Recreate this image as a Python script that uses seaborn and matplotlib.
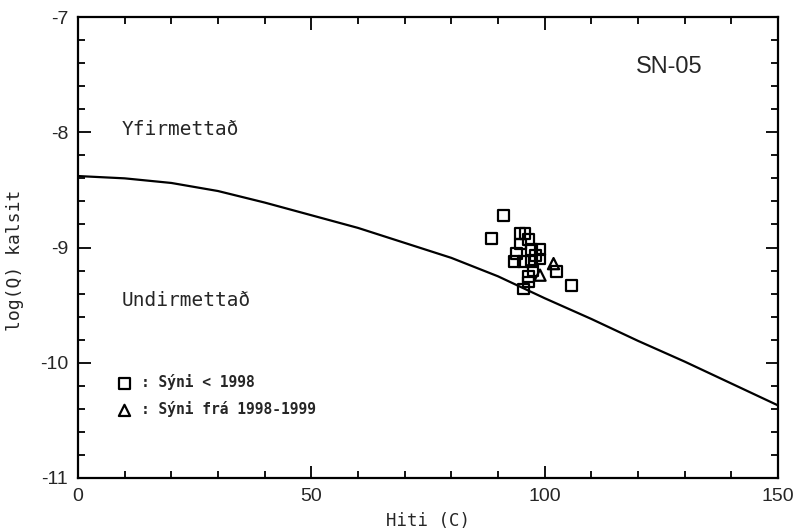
import numpy as np
import pandas as pd
import matplotlib
matplotlib.use("Agg")
import matplotlib.pyplot as plt
import seaborn as sns
from matplotlib.ticker import MultipleLocator

# Saturation curve (log K calcite vs temperature)
curve_t = [0, 10, 20, 30, 40, 50, 60, 70, 80, 90, 100, 110, 120, 130, 140, 150]
curve_logk = [-8.38, -8.40, -8.44, -8.51, -8.61, -8.72, -8.83, -8.96, -9.09,
              -9.25, -9.44, -9.62, -9.81, -9.99, -10.18, -10.37]

# Samples before 1998 (squares)
sq_t = [91.1, 88.6, 94.7, 95.8, 96.5, 94.0, 97.2, 99.0, 93.6, 95.4, 97.2,
        99.0, 97.5, 96.5, 96.5, 102.6, 105.8, 95.4, 94.9, 98.0]
sq_q = [-8.72, -8.92, -8.88, -8.88, -8.93, -9.05, -9.02, -9.02, -9.12, -9.12,
        -9.12, -9.10, -9.20, -9.25, -9.30, -9.21, -9.33, -9.36, -8.97, -9.07]

# Samples 1998-1999 (triangles)
tr_t = [101.9, 99.0]
tr_q = [-9.14, -9.24]

legend_labels = [": Sýni < 1998", ": Sýni frá 1998-1999"]

sns.set_style("ticks")
plt.rcParams['axes.unicode_minus'] = False
plt.rcParams['font.family'] = ['Liberation Sans', 'DejaVu Sans']

fig = plt.figure(figsize=(7.98, 5.31), dpi=100)
ax = fig.add_axes([78/798, 1-478/531, 700/798, 461/531])

curve_df = pd.DataFrame({"t": curve_t, "q": curve_logk})
sns.lineplot(data=curve_df, x="t", y="q", color="black", linewidth=1.6, ax=ax)

sq_df = pd.DataFrame({"t": sq_t, "q": sq_q})
tr_df = pd.DataFrame({"t": tr_t, "q": tr_q})
sns.scatterplot(data=sq_df, x="t", y="q", marker="s", s=60, facecolors="none",
                edgecolor="black", linewidth=1.6, ax=ax, label=legend_labels[0])
sns.scatterplot(data=tr_df, x="t", y="q", marker="^", s=65, facecolors="none",
                edgecolor="black", linewidth=1.6, ax=ax, label=legend_labels[1])

mono = ['DejaVu Sans Mono', 'DejaVu Sans']
leg = ax.legend(loc="upper left", bbox_to_anchor=(0.056, 0.225), frameon=False,
                borderpad=0, borderaxespad=0, handlelength=1.0,
                handletextpad=0.6, labelspacing=0.75,
                prop={'family': mono, 'weight': 'bold', 'size': 10.5})

ax.set_xlim(0, 150)
ax.set_ylim(-11, -7)
ax.xaxis.set_major_locator(MultipleLocator(50))
ax.xaxis.set_minor_locator(MultipleLocator(10))
ax.yaxis.set_major_locator(MultipleLocator(1))
ax.yaxis.set_minor_locator(MultipleLocator(0.2))
ax.tick_params(which="both", direction="in", top=True, right=True,
               color="black", width=1.3)
ax.tick_params(which="major", length=9, labelsize=14, pad=7)
ax.tick_params(which="minor", length=5)
for s in ax.spines.values():
    s.set_linewidth(1.6)
    s.set_color("black")

ax.set_xlabel("Hiti (C)", fontsize=12.5, family=mono)
ax.set_ylabel("log(Q) kalsit", fontsize=13, family=mono)
ax.xaxis.set_label_coords(0.5, -0.073)
ax.yaxis.set_label_coords(-0.077, 0.473)

ax.text(126.6, -7.43, "SN-05", fontsize=17, ha="center", va="center")
ax.text(9.4, -7.98, "Yfirmettað", fontsize=14, family=mono, ha="left", va="center")
ax.text(9.4, -9.46, "Undirmettað", fontsize=14, family=mono, ha="left", va="center")

fig.savefig("out.png", dpi=100, facecolor="white")
